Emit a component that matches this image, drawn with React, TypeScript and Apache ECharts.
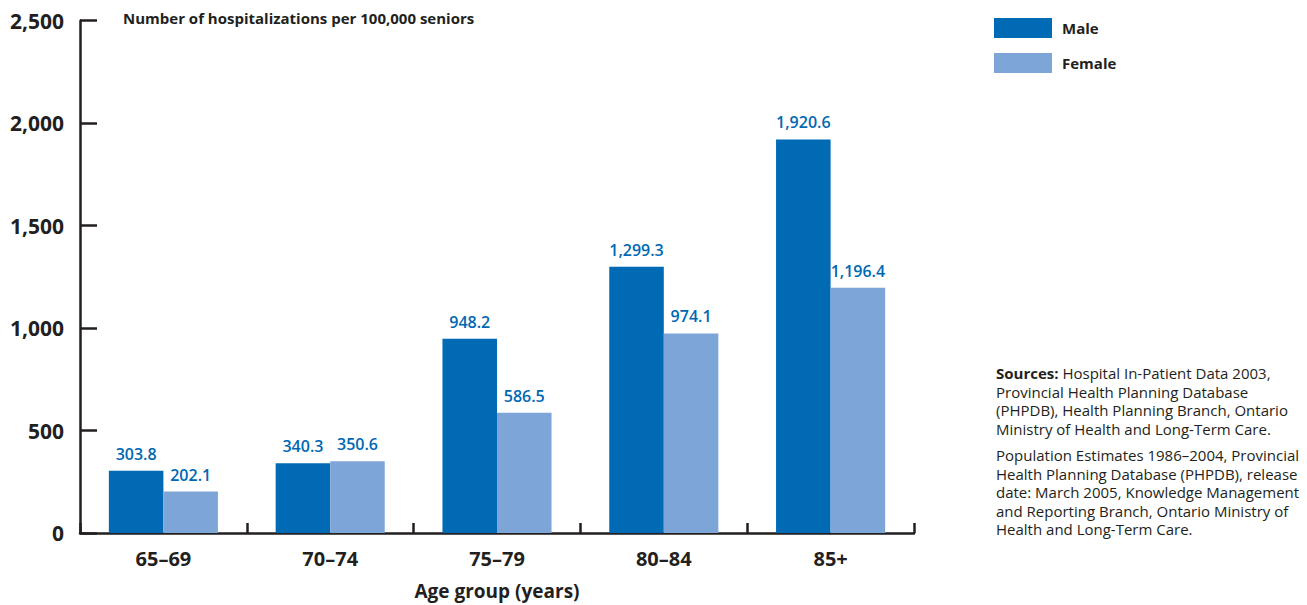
import React, { useEffect, useRef } from "react";
import * as echarts from "echarts";

const categories = ["65–69", "70–74", "75–79", "80–84", "85+"];
const maleValues = [303.8, 340.3, 948.2, 1299.3, 1920.6];
const femaleValues = [202.1, 350.6, 586.5, 974.1, 1196.4];
const seriesNames = ["Male", "Female"];
const yAxisTitle = "Number of hospitalizations per 100,000 seniors";
const xAxisTitle = "Age group (years)";
const sourceLines1 = [
  "Hospital In-Patient Data 2003,",
  "Provincial Health Planning Database",
  "(PHPDB), Health Planning Branch, Ontario",
  "Ministry of Health and Long-Term Care.",
];
const sourceLines2 = [
  "Population Estimates 1986–2004, Provincial",
  "Health Planning Database (PHPDB), release",
  "date: March 2005, Knowledge Management",
  "and Reporting Branch, Ontario Ministry of",
  "Health and Long-Term Care.",
];

const MALE = "#006ab5";
const FEMALE = "#7ea5d7";
const DARK = "#231f20";
const LABEL = "#0068b3";
const FONT = "'Open Sans', 'Noto Sans', sans-serif";

const fmt1 = (v: number) =>
  v.toLocaleString("en-US", { minimumFractionDigits: 1, maximumFractionDigits: 1 });

export default function App() {
  const ref = useRef<HTMLDivElement>(null);
  useEffect(() => {
    if (!ref.current) return;
    const chart = echarts.init(ref.current, null, { renderer: "svg" });
    const labelCfg = {
      show: true,
      position: "top",
      distance: 9,
      color: LABEL,
      fontFamily: FONT,
      fontSize: 16,
      fontWeight: 600,
      formatter: (p: any) => fmt1(p.value),
    };
    chart.setOption({
      animation: false,
      textStyle: { fontFamily: FONT },
      grid: { left: 80, right: 393, top: 20.7, bottom: 71.5, containLabel: false },
      legend: {
        orient: "vertical",
        left: 994,
        top: 18,
        padding: 0,
        itemWidth: 58,
        itemHeight: 20,
        itemGap: 15,
        icon: "rect",
        textStyle: { color: DARK, fontSize: 15, fontWeight: "bold", fontFamily: FONT, padding: [2, 0, 0, 5] },
        data: seriesNames,
      },
      xAxis: {
        type: "category",
        data: categories,
        name: xAxisTitle,
        nameLocation: "middle",
        nameGap: 48,
        nameTextStyle: { color: DARK, fontSize: 19, fontWeight: "bold", fontFamily: FONT },
        axisLine: { lineStyle: { color: DARK, width: 2.5 } },
        axisTick: { show: true, inside: true, length: 10, lineStyle: { color: DARK, width: 2.5 } },
        axisLabel: { color: DARK, fontSize: 20, fontWeight: "bold", margin: 15, fontFamily: FONT },
      },
      yAxis: {
        type: "value",
        min: 0,
        max: 2500,
        interval: 500,
        splitLine: { show: false },
        axisLine: { show: true, lineStyle: { color: DARK, width: 2.5 } },
        axisTick: { show: true, inside: true, length: 17, lineStyle: { color: DARK, width: 2.5 } },
        axisLabel: {
          color: DARK,
          fontSize: 21,
          fontWeight: "bold",
          margin: 16,
          fontFamily: FONT,
          formatter: (v: number) => v.toLocaleString("en-US"),
        },
      },
      series: [
        {
          name: seriesNames[0],
          type: "bar",
          data: maleValues,
          barWidth: "32.7%",
          barGap: "0%",
          itemStyle: { color: MALE },
          label: labelCfg,
        },
        {
          name: seriesNames[1],
          type: "bar",
          data: femaleValues,
          barWidth: "32.7%",
          barGap: "0%",
          itemStyle: { color: FEMALE },
          label: labelCfg,
        },
      ],
      graphic: [
        {
          type: "text",
          left: 123,
          top: 10,
          style: { text: yAxisTitle, fill: DARK, font: `bold 15px ${FONT}` },
        },
        {
          type: "text",
          left: 996,
          top: 364,
          style: {
            text: "{b|Sources:} " + sourceLines1.join("\n"),
            fill: DARK,
            fontFamily: FONT,
            fontSize: 15,
            lineHeight: 18.5,
            rich: {
              b: { fontWeight: "bold", fontSize: 15, fontFamily: FONT, fill: DARK, lineHeight: 18.5 },
            },
          },
        },
        {
          type: "text",
          left: 996,
          top: 446,
          style: {
            text: sourceLines2.join("\n"),
            fill: DARK,
            fontFamily: FONT,
            fontSize: 15,
            lineHeight: 18.5,
          },
        },
      ],
    });
    return () => chart.dispose();
  }, []);
  return (
    <div
      ref={ref}
      style={{ position: "fixed", left: 0, top: 0, width: 1307, height: 605, background: "#fff" }}
    />
  );
}
